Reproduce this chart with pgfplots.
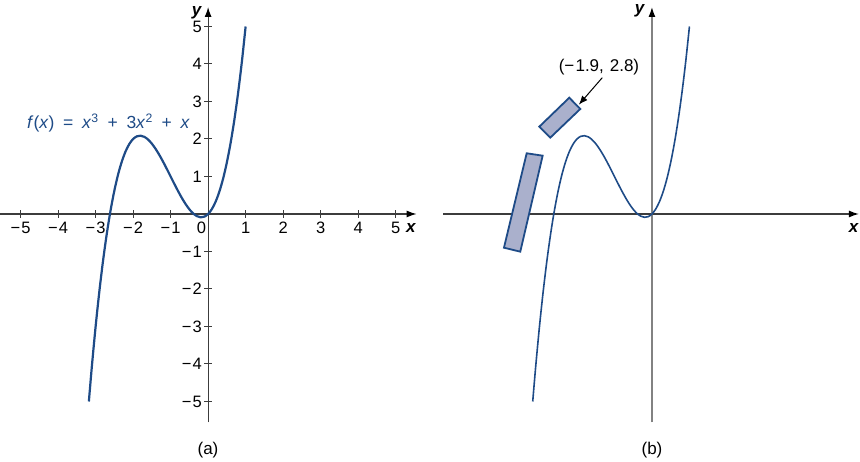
\documentclass[border=0pt]{standalone}
\usepackage{fontspec}
\setmainfont{Liberation Sans}
\usepackage{pgfplots}
\pgfplotsset{compat=1.18}
\usepackage{pgfplotstable}
\usetikzlibrary{arrows.meta}
\definecolor{curveblue}{RGB}{30,75,135}
\definecolor{rectfill}{RGB}{170,176,204}
\definecolor{axisdark}{RGB}{60,60,60}
\definecolor{axisgray}{RGB}{130,130,130}
\newcommand{\mn}{−\kern1.2pt}

\pgfplotstableread{
x y
-3.18 -5.000
-3.1 -4.061
-3.0 -3.000
-2.9 -2.059
-2.8 -1.232
-2.7 -0.513
-2.6 0.104
-2.5 0.625
-2.4 1.056
-2.3 1.403
-2.2 1.672
-2.1 1.869
-2.0 2.000
-1.9 2.071
-1.8 2.088
-1.7 2.057
-1.6 1.984
-1.5 1.875
-1.4 1.736
-1.3 1.573
-1.2 1.392
-1.1 1.199
-1.0 1.000
-0.9 0.801
-0.8 0.608
-0.7 0.427
-0.6 0.264
-0.5 0.125
-0.4 0.016
-0.3 -0.057
-0.2 -0.088
-0.1 -0.071
0.0 0.000
0.1 0.131
0.2 0.328
0.3 0.597
0.4 0.944
0.5 1.375
0.6 1.896
0.7 2.513
0.8 3.232
0.9 4.059
1.0 5.000
}\curvedata

\pgfplotsset{
  myaxis/.style={
    scale only axis,
    axis lines=middle,
    clip=false,
    ymin=-5.56, ymax=5.52,
    height=415.5pt,
    anchor=south west,
    tick align=center,
    major tick length=8pt,
    tick style={axisdark, line width=1pt},
    xlabel={\textbf{\textit{x}}},
    ylabel={\textbf{\textit{y}}},
    label style={font=\fontsize{17}{20}\selectfont},
    ticklabel style={font=\fontsize{16.5}{19}\selectfont},
  }
}

\begin{document}
\begin{tikzpicture}[x=1pt,y=1pt]
\useasboundingbox (0,0) rectangle (860,462);

% ---------- (a) ----------
\begin{axis}[myaxis,
  width=416.6pt,
  at={(0pt,39.5pt)},
  xmin=-5.55, xmax=5.56,
  x axis line style={axisdark, line width=1.2pt, -{Latex[black,length=10pt,width=7pt]}},
  y axis line style={axisdark, line width=1.2pt, -{Latex[black,length=10pt,width=7pt]}},
  xtick={-5,-4,-3,-2,-1,1,2,3,4,5},
  xticklabels={\mn5,\mn4,\mn3,\mn2,\mn1,1,2,3,4,5},
  ytick={-5,-4,-3,-2,-1,1,2,3,4,5},
  yticklabels={\mn5,\mn4,\mn3,\mn2,\mn1,1,2,3,4,5},
  xticklabel style={inner sep=1pt, yshift=-3pt},
  yticklabel style={inner sep=1pt, xshift=-1pt},
  xlabel style={at={(rel axis cs:0.9866,0.468)}, anchor=center},
  ylabel style={at={(rel axis cs:0.473,0.9856)}, anchor=center},
]
\addplot[curveblue, line width=2.2pt, smooth] table[x=x,y=y] {\curvedata};
\node[font=\fontsize{16.5}{19}\selectfont, anchor=north east, inner sep=0pt] at (axis cs:-0.05,-0.2) {0};
\node[font=\fontsize{17.5}{20}\selectfont, text=curveblue, anchor=west, inner sep=0pt] at (axis cs:-4.83,2.43)
  {\textit{f}(\textit{x})\hspace{0.5em}=\hspace{0.5em}\textit{x}\textsuperscript{3}\hspace{0.5em}+\hspace{0.5em}3\textit{x}\textsuperscript{2}\hspace{0.5em}+\hspace{0.5em}\textit{x}};
\end{axis}

% ---------- (b) ----------
\begin{axis}[myaxis,
  width=415.9pt,
  at={(443pt,39.5pt)},
  xmin=-5.573, xmax=5.52,
  xtick=\empty, ytick=\empty,
  x axis line style={axisdark, line width=1.2pt, -{Latex[black,length=10pt,width=7pt]}},
  y axis line style={axisgray, line width=1.4pt, -{Latex[black,length=10pt,width=7pt]}},
  xlabel style={at={(rel axis cs:0.988,0.468)}, anchor=center},
  ylabel style={at={(rel axis cs:0.4737,0.990)}, anchor=center},
]
\addplot[curveblue, line width=1.6pt, smooth] table[x=x,y=y] {\curvedata};
\addplot[draw=curveblue, fill=rectfill, line width=1.8pt, line join=miter] coordinates {(-3.005,2.328) (-2.205,3.101) (-1.912,2.8) (-2.712,2.035)} -- cycle;
\addplot[draw=curveblue, fill=rectfill, line width=1.8pt, line join=miter] coordinates {(-3.341,1.619) (-2.915,1.555) (-3.512,-1.005) (-3.947,-0.899)} -- cycle;
\draw[black, line width=1pt, -{Latex[length=9pt,width=7pt]}] (axis cs:-1.325,3.635) -- (axis cs:-1.95,2.915);
\node[font=\fontsize{17}{20}\selectfont] at (axis cs:-1.413,3.92) {(\mn1.9,\hspace{0.35em}2.8)};
\end{axis}

\node[font=\fontsize{17}{20}\selectfont] at (208,12) {(a)};
\node[font=\fontsize{17}{20}\selectfont] at (652,12) {(b)};
\end{tikzpicture}
\end{document}
